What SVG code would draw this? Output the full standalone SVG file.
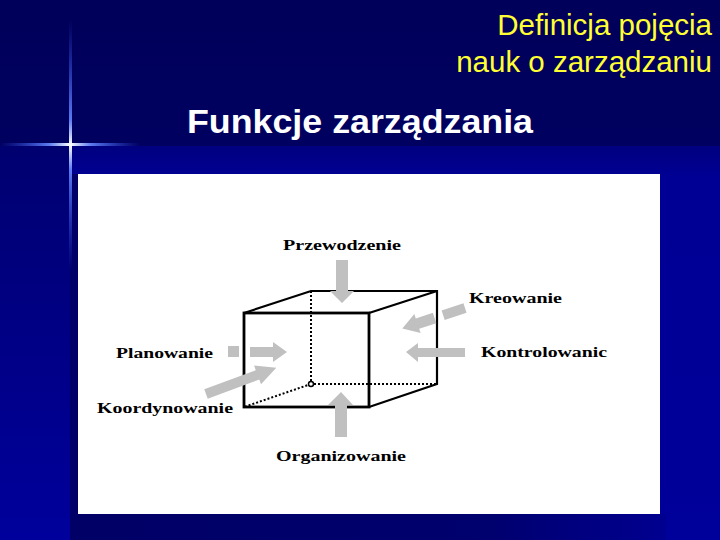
<svg xmlns="http://www.w3.org/2000/svg" width="720" height="540" viewBox="0 0 720 540">
<defs>
<linearGradient id="bgTop" x1="0" y1="0" x2="0" y2="1">
<stop offset="0" stop-color="#00005a"/>
<stop offset="1" stop-color="#000070"/>
</linearGradient>
<linearGradient id="bgLeft" x1="0" y1="0" x2="0" y2="1">
<stop offset="0" stop-color="#000070"/>
<stop offset="1" stop-color="#00009c"/>
</linearGradient>
<linearGradient id="bgRight" x1="0" y1="0" x2="0" y2="1">
<stop offset="0" stop-color="#000080"/>
<stop offset="0.08" stop-color="#000094"/>
<stop offset="1" stop-color="#00009a"/>
</linearGradient>
<linearGradient id="shadowB" x1="0" y1="0" x2="1" y2="0">
<stop offset="0" stop-color="#000066"/>
<stop offset="0.7" stop-color="#00006e"/>
<stop offset="1" stop-color="#000090"/>
</linearGradient>
<linearGradient id="flareH" x1="0" y1="0" x2="1" y2="0">
<stop offset="0" stop-color="#3355ff" stop-opacity="0"/>
<stop offset="0.35" stop-color="#6688ff" stop-opacity="0.9"/>
<stop offset="0.5" stop-color="#ffffff"/>
<stop offset="0.65" stop-color="#6688ff" stop-opacity="0.9"/>
<stop offset="1" stop-color="#3355ff" stop-opacity="0"/>
</linearGradient>
<linearGradient id="flareV" x1="0" y1="0" x2="0" y2="1">
<stop offset="0" stop-color="#3355ff" stop-opacity="0"/>
<stop offset="0.4" stop-color="#6688ff" stop-opacity="0.9"/>
<stop offset="0.5" stop-color="#ffffff"/>
<stop offset="0.6" stop-color="#6688ff" stop-opacity="0.9"/>
<stop offset="1" stop-color="#3355ff" stop-opacity="0"/>
</linearGradient>
<style>
.title{font-family:"Liberation Sans",Arial,sans-serif;fill:#ffff33;font-size:29.5px;text-anchor:end}
.head{font-family:"Liberation Sans",Arial,sans-serif;fill:#ffffff;font-size:34px;font-weight:bold}
.lbl{font-family:"Liberation Serif","Times New Roman",serif;font-weight:bold;font-size:14px;fill:#000}
.arr{fill:#c0c0c0}
.edge{stroke:#000;stroke-width:2.2;fill:none}
.front{stroke:#000;stroke-width:2.8;fill:none}
.hid{stroke:#000;stroke-width:2;stroke-dasharray:2 2;fill:none}
</style>
</defs>
<rect x="0" y="0" width="720" height="540" fill="url(#bgTop)"/>
<rect x="0" y="146" width="72" height="394" fill="url(#bgLeft)"/>
<rect x="72" y="146" width="648" height="394" fill="url(#bgRight)"/>
<rect x="70" y="174" width="8" height="366" fill="#000068"/>
<rect x="70" y="514" width="596" height="26" fill="url(#shadowB)"/>
<rect x="0" y="143" width="140" height="3" fill="url(#flareH)"/>
<rect x="69" y="20" width="3" height="250" fill="url(#flareV)"/>
<text class="title" x="712" y="35">Definicja pojęcia</text>
<text class="title" x="712" y="72">nauk o zarządzaniu</text>
<text class="head" x="187" y="133" textLength="346" lengthAdjust="spacingAndGlyphs">Funkcje zarządzania</text>
<rect x="78" y="174" width="582" height="340" fill="#ffffff"/>
<g id="cube">
<path class="hid" d="M311 291 V384 H437 M311 384 L244 407"/>
<path class="edge" d="M244 313 L311 291 H437 V384 L369 407 M369 313 L437 291"/>
<rect class="front" x="244" y="313" width="125" height="94"/>
<circle cx="311" cy="384" r="2.5" fill="#fff" stroke="#000" stroke-width="1.5"/>
</g>
<g id="connectors">
<polygon class="arr" points="336,260 348,260 348,291 354,291 342,303 330,291 336,291"/>
<polygon class="arr" points="335,437 347,437 347,405 353,405 341,392 328,405 335,405"/>
<rect class="arr" x="228" y="346" width="11" height="11"/>
<polygon class="arr" points="250,347 273,347 273,342 287,352 273,362 273,357 250,357"/>
<polygon class="arr" points="465,348 418,348 418,343 406,352 418,362 418,357 465,357"/>
<polygon class="arr" transform="translate(206,394) rotate(-20.4)" points="0,-5 55,-5 55,-10 75,0 55,10 55,5 0,5"/>
<g transform="translate(465,308) rotate(161.8)">
<rect class="arr" x="0" y="-5" width="23" height="10"/>
<polygon class="arr" points="32,-5.5 50,-5.5 50,-10 66,0 50,10 50,5.5 32,5.5"/>
</g>
</g>
<g id="labels">
<text class="lbl" x="283" y="250" textLength="118" lengthAdjust="spacingAndGlyphs">Przewodzenie</text>
<text class="lbl" x="469" y="303" textLength="93" lengthAdjust="spacingAndGlyphs">Kreowanie</text>
<text class="lbl" x="481" y="357" textLength="126" lengthAdjust="spacingAndGlyphs">Kontrolowanic</text>
<text class="lbl" x="116" y="358" textLength="97" lengthAdjust="spacingAndGlyphs">Planowanie</text>
<text class="lbl" x="97" y="413" textLength="136" lengthAdjust="spacingAndGlyphs">Koordynowanie</text>
<text class="lbl" x="276" y="461" textLength="130" lengthAdjust="spacingAndGlyphs">Organizowanie</text>
</g>
</svg>
